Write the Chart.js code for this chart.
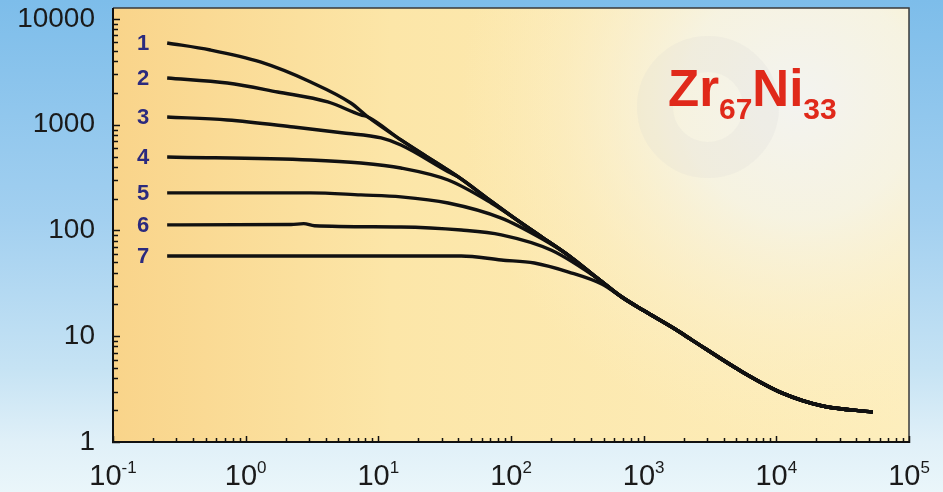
<!DOCTYPE html>
<html>
<head>
<meta charset="utf-8">
<script src="https://cdn.jsdelivr.net/npm/chart.js@4"></script>
<style>
  html, body { margin: 0; padding: 0; background: #eaf6fa; }
  canvas { display: block; }
</style>
</head>
<body>
<canvas id="chart" width="943" height="492"></canvas>
<script>
// values: [x, y] pairs, log-log
const masterTail = [[8.35, 1183], [14.8, 718], [25, 470], [40, 321], [65, 205], [106, 131], [170, 87], [272, 58], [440, 36], [684, 23.5], [1000, 17.5], [1722, 11.7], [2317, 9.2], [5540, 4.6], [11100, 2.9], [22300, 2.19], [53200, 1.92]];
const curve1Head = [[0.256, 5930], [0.542, 5090], [1.29, 3920], [3.09, 2535], [6.2, 1606]];
const curve2Head = [[0.256, 2767], [0.728, 2483], [1.74, 2041], [4.16, 1641], [7.38, 1237]];
const curve3Head = [[0.256, 1183], [0.728, 1109], [2.3, 952], [5.5, 836], [10.5, 750], [14.8, 644], [33.6, 360]];
const curve4Head = [[0.256, 496], [3.09, 464], [7.38, 435], [14.8, 390], [33.6, 300], [71, 182]];
const curve5Head = [[0.256, 227], [3.09, 227], [7.38, 217], [14.8, 208], [33.6, 182], [84.5, 131], [170, 84]];
const curve6Head = [[0.256, 113], [2.2, 114], [2.74, 116], [3.3, 111], [14.8, 108], [42.2, 101], [84.5, 91], [202, 65], [483, 33]];
const curve7Head = [[0.256, 57.4], [42.2, 57.4], [84.5, 52.6], [150, 49.3], [272, 40.5], [483, 31.2], [684, 23.5]];
const curveNames = ['1', '2', '3', '4', '5', '6', '7'];
const heads = [curve1Head, curve2Head, curve3Head, curve4Head, curve5Head, curve6Head, curve7Head];

const xMin = 0.1, xMax = 1e5, yMin = 1, yMax = 12700;
const FONT = '"Liberation Sans", Arial, sans-serif';

const isPow10 = (v) => Math.abs(Math.log10(v) - Math.round(Math.log10(v))) < 1e-6;
const isWhole = (v) => {
  const m = v / Math.pow(10, Math.floor(Math.log10(v) + 1e-9));
  return Math.abs(m - Math.round(m)) < 1e-6;
};
// each run follows its own head, then rides the shared master curve
const withTail = (head) => head.concat(masterTail.filter((p) => p[0] > head[head.length - 1][0]));
const noPad = (s) => { s.paddingTop = 0; s.paddingBottom = 0; s.paddingLeft = 0; s.paddingRight = 0; };

const bgPlugin = {
  id: 'bg',
  beforeDraw(chart) {
    const { ctx, chartArea: a, width, height } = chart;
    ctx.save();
    const g = ctx.createLinearGradient(0, 0, 0, height);
    g.addColorStop(0, '#7dbdea');
    g.addColorStop(0.45, '#a3d0f0');
    g.addColorStop(0.75, '#c6e3f4');
    g.addColorStop(0.9, '#e0f0f8');
    g.addColorStop(1, '#eaf6fa');
    ctx.fillStyle = g;
    ctx.fillRect(0, 0, width, height);

    const h = ctx.createLinearGradient(a.left, 0, a.right, 0);
    h.addColorStop(0, '#f9d48a');
    h.addColorStop(0.35, '#fce6a8');
    h.addColorStop(1, '#fdeebd');
    ctx.fillStyle = h;
    ctx.fillRect(a.left, a.top, a.right - a.left, a.bottom - a.top);

    const r = ctx.createRadialGradient(800, 100, 0, 800, 100, 340);
    r.addColorStop(0, 'rgba(243,243,240,1)');
    r.addColorStop(0.35, 'rgba(245,244,232,0.85)');
    r.addColorStop(0.7, 'rgba(250,242,215,0.35)');
    r.addColorStop(1, 'rgba(252,240,200,0)');
    ctx.fillStyle = r;
    ctx.fillRect(a.left, a.top, a.right - a.left, a.bottom - a.top);

    // faint grey ring behind the formula
    ctx.beginPath();
    ctx.arc(708, 107, 53, 0, Math.PI * 2);
    ctx.lineWidth = 36;
    ctx.strokeStyle = 'rgba(205,205,205,0.14)';
    ctx.stroke();
    ctx.restore();
  }
};

const framePlugin = {
  id: 'frame',
  afterDraw(chart) {
    const { ctx, chartArea: a, scales } = chart;
    const xs = scales.x, ys = scales.y;
    ctx.save();
    // top/right border
    ctx.strokeStyle = '#3a3a3a';
    ctx.lineWidth = 1.5;
    ctx.beginPath();
    ctx.moveTo(a.left, a.top);
    ctx.lineTo(a.right, a.top);
    ctx.lineTo(a.right, a.bottom);
    ctx.stroke();
    // axes
    ctx.strokeStyle = '#111';
    ctx.lineWidth = 2;
    ctx.beginPath();
    ctx.moveTo(a.left, a.top);
    ctx.lineTo(a.left, a.bottom);
    ctx.lineTo(a.right, a.bottom);
    ctx.stroke();

    // inward tick marks
    ctx.lineWidth = 1.5;
    ctx.beginPath();
    xs.ticks.forEach((t) => {
      if (!isWhole(t.value)) return;
      const px = Math.round(xs.getPixelForValue(t.value)) + 0.5;
      const len = isPow10(t.value) ? 6 : 4;
      ctx.moveTo(px, a.bottom + 1);
      ctx.lineTo(px, a.bottom - len);
    });
    ys.ticks.forEach((t) => {
      if (!isWhole(t.value)) return;
      const py = Math.round(ys.getPixelForValue(t.value)) + 0.5;
      const len = isPow10(t.value) ? 7 : 5;
      ctx.moveTo(a.left - 1, py);
      ctx.lineTo(a.left + len, py);
    });
    ctx.stroke();

    // x labels as 10 with a raised exponent
    ctx.fillStyle = '#1a1a1a';
    ctx.textBaseline = 'alphabetic';
    ctx.textAlign = 'left';
    xs.ticks.forEach((t) => {
      if (!isPow10(t.value)) return;
      const e = String(Math.round(Math.log10(t.value))).replace('-', '\u2011');
      ctx.font = `29px ${FONT}`;
      const wb = ctx.measureText('10').width;
      ctx.font = `17px ${FONT}`;
      const we = ctx.measureText(e).width;
      const x0 = xs.getPixelForValue(t.value) - (wb + we) / 2;
      ctx.font = `29px ${FONT}`;
      ctx.fillText('10', x0, 485);
      ctx.font = `17px ${FONT}`;
      ctx.fillText(e, x0 + wb, 473);
    });

    // curve numbers at the start of each plateau
    ctx.fillStyle = '#2b2a7e';
    ctx.font = `bold 22px ${FONT}`;
    ctx.textAlign = 'center';
    ctx.textBaseline = 'middle';
    heads.forEach((hd, i) => {
      const px = xs.getPixelForValue(hd[0][0]) - 24;
      const py = ys.getPixelForValue(hd[0][1]) + 1;
      ctx.fillText(curveNames[i], px, py);
    });

    // formula
    ctx.fillStyle = '#e0291a';
    ctx.textAlign = 'left';
    ctx.textBaseline = 'alphabetic';
    let x = 668;
    const part = (txt, size, base) => {
      ctx.font = `bold ${size}px ${FONT}`;
      ctx.fillText(txt, x, base);
      x += ctx.measureText(txt).width;
    };
    part('Zr', 51, 106);
    part('67', 30, 119);
    part('Ni', 51, 106);
    part('33', 30, 119);
    ctx.restore();
  }
};

function drawChart() {
  const datasets = heads.map((hd, i) => ({
    label: curveNames[i],
    data: withTail(hd).map((p) => ({ x: p[0], y: p[1] })),
    borderColor: '#111',
    borderWidth: 3.4,
    pointRadius: 0,
    fill: false,
    cubicInterpolationMode: 'monotone'
  }));

  new Chart(document.getElementById('chart'), {
    type: 'line',
    data: { datasets },
    options: {
      responsive: false,
      animation: false,
      layout: { padding: { top: 8, right: 34, left: 0, bottom: 0 }, autoPadding: false },
      plugins: { legend: { display: false }, tooltip: { enabled: false } },
      scales: {
        x: {
          type: 'logarithmic',
          min: xMin,
          max: xMax,
          grid: { display: false, drawTicks: false },
          border: { display: false },
          ticks: { display: false, autoSkip: false },
          afterFit: (s) => { s.height = 50; noPad(s); }
        },
        y: {
          type: 'logarithmic',
          min: yMin,
          max: yMax,
          grid: { display: false, drawTicks: false },
          border: { display: false },
          ticks: {
            autoSkip: false,
            padding: 18,
            color: '#1a1a1a',
            font: { family: FONT, size: 28 },
            callback: (v) => (isPow10(v) ? String(Math.round(v)) : '')
          },
          afterFit: (s) => { s.width = 113; noPad(s); }
        }
      }
    },
    plugins: [bgPlugin, framePlugin]
  });
}

drawChart();
</script>
</body>
</html>
